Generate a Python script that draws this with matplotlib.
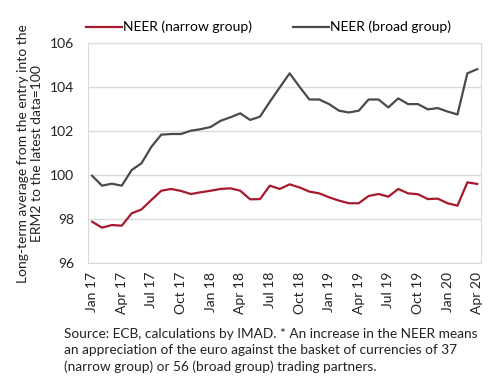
import matplotlib.pyplot as plt
import numpy as np

plt.rcParams['font.family'] = ['Lato', 'DejaVu Sans']

# monthly data, Jan 2017 - Apr 2020
months = ['Jan 17', 'Feb 17', 'Mar 17', 'Apr 17', 'May 17', 'Jun 17', 'Jul 17', 'Aug 17',
          'Sep 17', 'Oct 17', 'Nov 17', 'Dec 17', 'Jan 18', 'Feb 18', 'Mar 18', 'Apr 18',
          'May 18', 'Jun 18', 'Jul 18', 'Aug 18', 'Sep 18', 'Oct 18', 'Nov 18', 'Dec 18',
          'Jan 19', 'Feb 19', 'Mar 19', 'Apr 19', 'May 19', 'Jun 19', 'Jul 19', 'Aug 19',
          'Sep 19', 'Oct 19', 'Nov 19', 'Dec 19', 'Jan 20', 'Feb 20', 'Mar 20', 'Apr 20']

neer_narrow = [97.89, 97.62, 97.74, 97.71, 98.27, 98.45, 98.88, 99.30, 99.38, 99.29,
               99.15, 99.23, 99.30, 99.38, 99.41, 99.30, 98.91, 98.92, 99.53, 99.38,
               99.59, 99.45, 99.26, 99.18, 99.00, 98.85, 98.73, 98.73, 99.06, 99.15,
               99.03, 99.38, 99.18, 99.14, 98.92, 98.94, 98.73, 98.62, 99.68, 99.61]

neer_broad = [99.98, 99.53, 99.62, 99.53, 100.24, 100.55, 101.30, 101.85, 101.88, 101.88,
              102.03, 102.10, 102.20, 102.48, 102.64, 102.82, 102.52, 102.67, 103.35, 104.00,
              104.64, 104.03, 103.45, 103.45, 103.24, 102.94, 102.86, 102.94, 103.45, 103.45,
              103.09, 103.50, 103.24, 103.24, 103.00, 103.06, 102.90, 102.77, 104.64, 104.83]

x = np.arange(len(months))

fig = plt.figure(figsize=(4.9, 3.81), dpi=100)
ax = fig.add_axes([0.18, 0.309, 0.802, 0.577])

ax.plot(x, neer_narrow, color='#A6192E', lw=1.6, label='NEER (narrow group)')
ax.plot(x, neer_broad, color='#4A4A4A', lw=1.6, label='NEER (broad group)')

ax.set_xlim(-0.4, len(months) - 0.6)
ax.set_ylim(96, 106)
ax.set_yticks([96, 98, 100, 102, 104, 106])
ax.set_xticks(x[::3])
ax.set_xticklabels(months[::3], rotation=90)
ax.tick_params(length=0, labelsize=10, colors='#222222')
ax.tick_params(axis='y', pad=10)
ax.tick_params(axis='x', pad=6)

ax.grid(axis='y', color='#D9D9D9', lw=1)
ax.set_axisbelow(True)
for s in ax.spines.values():
    s.set_color('#D9D9D9')

ax.set_ylabel('Long-term average from the entry into the\nERM2 to the latest data=100',
              fontsize=10, labelpad=5, color='#222222', linespacing=1.25)

ax.legend(loc='lower left', bbox_to_anchor=(-0.02, 1.02), ncol=2, frameon=False,
          fontsize=10, handlelength=2.6, handletextpad=0.1, columnspacing=2.9,
          borderaxespad=0)

fig.text(0.13, 0.14,
         'Source: ECB, calculations by IMAD. * An increase in the NEER means\n'
         'an appreciation of the euro against the basket of currencies of 37\n'
         '(narrow group) or 56 (broad group) trading partners.',
         fontsize=9.8, va='top', ha='left', linespacing=1.42, color='#222222')

fig.savefig('out.png', dpi=100)
